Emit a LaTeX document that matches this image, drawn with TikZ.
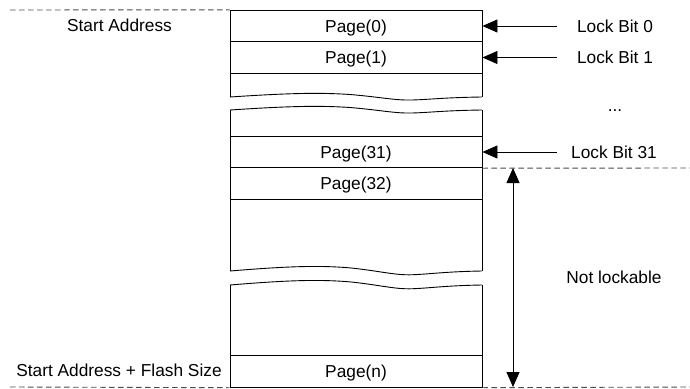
\documentclass[tikz,border=0pt]{standalone}
\usepackage{fontspec}
\setmainfont{Liberation Sans}
\usetikzlibrary{arrows.meta}
\begin{document}
\begin{tikzpicture}[x=1pt,y=-1pt,
  txt/.style={font=\fontsize{17.3}{20}\selectfont, inner sep=0pt, text height=15.5pt, text depth=3.1pt},
  page/.style={txt, draw, line width=0.9pt, minimum width=252pt, minimum height=31.5pt},
  frame/.style={line width=0.9pt},
  guide/.style={line width=0.9pt, black!70, dash pattern=on 5.5pt off 3.5pt},
  tip/.style={-{Triangle[length=15pt,width=13pt]}, line width=0.9pt},
  tips/.style={{Triangle[length=15pt,width=13pt]}-{Triangle[length=15pt,width=13pt]}, line width=0.9pt},
  brkwave/.pic={\draw[line width=0.9pt] (0,0) .. controls (60,-4) and (90,-4.5) .. (120,-2.5) .. controls (150,0) and (165,3.5) .. (182,3) .. controls (200,2.5) and (215,0.5) .. (252,0);}
]
\useasboundingbox (0,0) rectangle (690,388);

% column frame
\draw[frame] (230,97) -- (230,10) -- (482,10) -- (482,97);
\draw[frame] (230,110) -- (230,271);
\draw[frame] (482,110) -- (482,271);
\draw[frame] (230,285) -- (230,387) -- (482,387) -- (482,285);
\pic at (230,97) {brkwave};
\pic at (230,110) {brkwave};
\pic[yscale=1.25] at (230,271) {brkwave};
\pic[yscale=1.25] at (230,285) {brkwave};

% pages
\node[page] (p0) at (356,26) {Page(0)};
\node[page] (p1) at (356,57.5) {Page(1)};
\node[page] (p31) at (356,152) {Page(31)};
\node[page] (p32) at (356,183.5) {Page(32)};
\node[page] (pn) at (356,371.5) {Page(n)};

% left labels
\node[txt] (sa) at (119.5,25.5) {Start Address};
\node[txt] (sf) at (119,370) {Start Address + Flash Size};

% lock bits
\node[txt] (lb0) at (615,26) {Lock Bit 0};
\node[txt] (lb1) at (615,57.5) {Lock Bit 1};
\node[txt] (dots) at (615,105) {...};
\node[txt] (lb31) at (614,152) {Lock Bit 31};
\node[txt] (nl) at (614,277) {Not lockable};

\coordinate (s0) at (557,26);
\coordinate (s1) at (557,57.5);
\coordinate (s31) at (557,152);
\draw[tip] (s0) -- (p0.east);
\draw[tip] (s1) -- (p1.east);
\draw[tip] (s31) -- (p31.east);

% guides
\coordinate (gtl) at (10,10);
\coordinate (gbl) at (10,387);
\coordinate (gbr) at (690,387);
\coordinate (gmr) at (690,168);
\draw[guide] (gtl) -- (p0.north west);
\draw[guide] (gbl) -- (pn.south west);
\draw[guide] (pn.south east) -- (gbr);
\draw[guide] (p31.south east) -- (gmr);

% not lockable range
\coordinate (nt) at (513,168);
\coordinate (nb) at (513,387);
\draw[tips] (nt) -- (nb);
\end{tikzpicture}
\end{document}
